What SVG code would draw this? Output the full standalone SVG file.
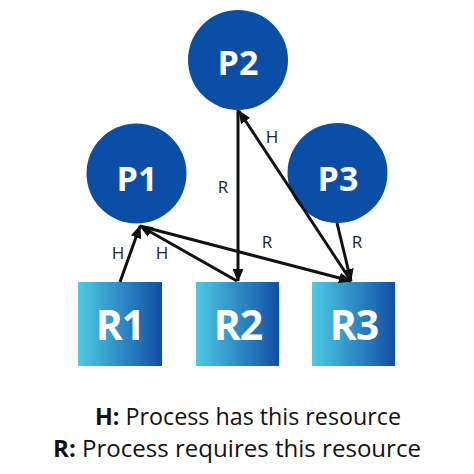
<svg xmlns="http://www.w3.org/2000/svg" width="474" height="474" viewBox="0 0 474 474">
<defs>
<linearGradient id="rg" x1="0" y1="0" x2="1" y2="0">
<stop offset="0" stop-color="#4dcae4"/>
<stop offset="1" stop-color="#114fa7"/>
</linearGradient>
<marker id="ah" markerUnits="userSpaceOnUse" markerWidth="13" markerHeight="11" viewBox="0 0 13 11" refX="12" refY="5.5" orient="auto">
<path d="M0,0 L13,5.5 L0,11 z" fill="#111"/>
</marker>
<style>
.proc{fill:#0b4ea6}
.res{fill:url(#rg)}
.pt{font-family:"Open Sans","Liberation Sans",sans-serif;font-weight:700;font-size:34px;fill:#fff;text-anchor:middle}
.rt{font-family:"Open Sans","Liberation Sans",sans-serif;font-weight:700;font-size:41px;fill:#fff;text-anchor:middle;letter-spacing:-1px}
.e{stroke:#111;stroke-width:3;fill:none;marker-end:url(#ah)}
.lbl{font-family:"Open Sans","Liberation Sans",sans-serif;font-size:17px;fill:#222;text-anchor:middle}
.leg{font-family:"Open Sans","Liberation Sans",sans-serif;font-size:23px;fill:#111}
</style>
</defs>
<rect width="474" height="474" fill="#fff"/>
<g id="P2"><circle class="proc" cx="238" cy="60" r="50"/><text class="pt" x="238" y="75">P2</text></g>
<g id="P1"><circle class="proc" cx="136.5" cy="173.5" r="50"/><text class="pt" x="137" y="191">P1</text></g>
<g id="P3"><circle class="proc" cx="337.5" cy="173" r="50"/><text class="pt" x="338" y="191">P3</text></g>
<g id="R1"><rect class="res" x="78" y="282" width="84" height="84"/><text class="rt" x="120" y="340">R1</text></g>
<g id="R2"><rect class="res" x="196" y="282" width="83" height="84"/><text class="rt" x="238" y="340">R2</text></g>
<g id="R3"><rect class="res" x="312" y="282" width="83" height="84"/><text class="rt" x="354" y="340">R3</text></g>
<g id="connectors">
<line class="e" x1="120" y1="282" x2="140" y2="226"/>
<line class="e" x1="237" y1="281" x2="140" y2="226"/>
<line class="e" x1="238" y1="110" x2="238" y2="281"/>
<line class="e" x1="351" y1="281" x2="239" y2="111"/>
<line class="e" x1="140" y1="226" x2="351" y2="281"/>
<line class="e" x1="337" y1="223" x2="351" y2="281"/>
<text class="lbl" x="118" y="259">H</text>
<text class="lbl" x="162" y="259">H</text>
<text class="lbl" x="223" y="193">R</text>
<text class="lbl" x="272" y="143">H</text>
<text class="lbl" x="267" y="248">R</text>
<text class="lbl" x="357" y="248">R</text>
</g>
<g id="legend">
<text class="leg" x="95" y="425" textLength="306" lengthAdjust="spacingAndGlyphs"><tspan font-weight="700">H:</tspan> Process has this resource</text>
<text class="leg" x="53" y="457" textLength="368" lengthAdjust="spacingAndGlyphs"><tspan font-weight="700">R:</tspan> Process requires this resource</text>
</g>
</svg>
